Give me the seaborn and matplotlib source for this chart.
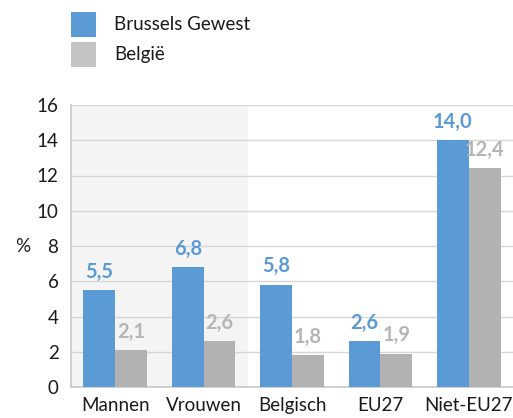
import matplotlib
matplotlib.use("Agg")
import matplotlib.pyplot as plt
import seaborn as sns
import pandas as pd
from matplotlib.patches import Rectangle

categories = ["Mannen", "Vrouwen", "Belgisch", "EU27", "Niet-EU27"]
brussels = [5.5, 6.8, 5.8, 2.6, 14.0]
belgie = [2.1, 2.6, 1.8, 1.9, 12.4]
series_names = ["Brussels Gewest", "België"]
y_ticks = [0, 2, 4, 6, 8, 10, 12, 14, 16]

BLUE = "#5B9BD5"
GREY = "#B2B2B2"
GREY_LEGEND = "#C4C4C4"
GREY_TEXT = "#B5B5B5"
INK = "#1A1A1A"

W, H = 513, 418

df = pd.DataFrame({
    "categorie": categories * 2,
    "waarde": brussels + belgie,
    "reeks": [series_names[0]] * len(categories) + [series_names[1]] * len(categories),
})

sns.set_theme(style="white")
plt.rcParams["font.family"] = ["Lato", "DejaVu Sans"]

fig = plt.figure(figsize=(W / 100, H / 100), dpi=100)
ax = fig.add_axes([71 / W, 1 - 387 / H, 442 / W, 282 / H])

# shaded background behind the gender group
ax.axvspan(-0.5, 1.5, color="#F4F4F4", zorder=0, lw=0)

sns.barplot(data=df, x="categorie", y="waarde", hue="reeks",
            palette=[BLUE, GREY], width=0.72, ax=ax, legend=False,
            saturation=1, zorder=3, linewidth=0)

ax.set_xlim(-0.5, 4.5)
ax.set_ylim(0, 16)
ax.set_yticks(y_ticks)
ax.yaxis.grid(True, color="#D6D6D6", linewidth=1.0, zorder=1)
ax.set_axisbelow(True)
for side in ["top", "right"]:
    ax.spines[side].set_visible(False)
for side in ["left", "bottom"]:
    ax.spines[side].set_color("#C8C8C8")
    ax.spines[side].set_linewidth(1.2)

ax.set_xlabel("")
ax.set_ylabel("")
ax.tick_params(axis="y", labelsize=13.5, pad=9, length=0, colors=INK)
ax.tick_params(axis="x", labelsize=13.5, pad=7, length=0, colors=INK)

fig.text(15 / W, 1 - 247 / H, "%", fontsize=13.5, ha="left", va="center", color=INK)

for cont, vals, col in zip(ax.containers, [brussels, belgie], [BLUE, GREY_TEXT]):
    ax.bar_label(cont, labels=[f"{v:.1f}".replace(".", ",") for v in vals],
                 padding=6, color=col, fontsize=14.5, fontweight="bold")

# legend: coloured squares with labels
for i, (name, col) in enumerate(zip(series_names, [BLUE, GREY_LEGEND])):
    top = 12 + i * 30
    fig.patches.append(Rectangle((71 / W, 1 - (top + 25) / H), 25 / W, 25 / H,
                                 transform=fig.transFigure, facecolor=col,
                                 edgecolor="none"))
    fig.text(114 / W, 1 - (top + 12.5) / H, name, fontsize=13.5,
             ha="left", va="center", color=INK)

fig.savefig("out.png", dpi=100)
